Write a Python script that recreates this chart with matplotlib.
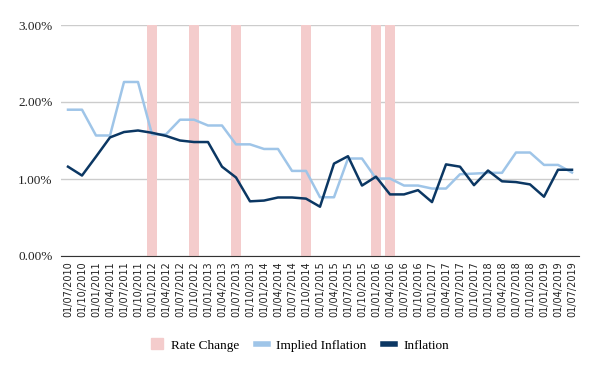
import numpy as np
import matplotlib
matplotlib.use('Agg')
import matplotlib.pyplot as plt
from matplotlib.ticker import PercentFormatter
from matplotlib.lines import Line2D
from matplotlib.patches import Patch

# quarterly dates, 01/07/2010 .. 01/07/2019
dates = []
for yr in range(2010, 2020):
    for mo in ['01', '04', '07', '10']:
        if (yr == 2010 and mo in ('01', '04')) or (yr == 2019 and mo == '10'):
            continue
        dates.append(f"01/{mo}/{yr}")

implied = [1.90, 1.90, 1.565, 1.565, 2.26, 2.26, 1.58, 1.58, 1.77, 1.77,
           1.695, 1.695, 1.45, 1.45, 1.39, 1.39, 1.105, 1.105, 0.763, 0.763,
           1.266, 1.266, 1.006, 1.006, 0.915, 0.915, 0.876, 0.876, 1.062, 1.07,
           1.08, 1.08, 1.344, 1.344, 1.183, 1.183, 1.084]
inflation = [1.16, 1.045, 1.29, 1.54, 1.61, 1.63, 1.60, 1.56, 1.50, 1.48,
             1.48, 1.16, 1.02, 0.71, 0.72, 0.76, 0.76, 0.745, 0.64, 1.20,
             1.296, 0.915, 1.03, 0.80, 0.80, 0.855, 0.70, 1.19, 1.16, 0.92,
             1.11, 0.97, 0.96, 0.93, 0.77, 1.12, 1.12]
rate_change_dates = ["01/01/2012", "01/10/2012", "01/07/2013",
                     "01/10/2014", "01/01/2016", "01/04/2016"]
rate_change_level = 3.0

pink = '#f4cccc'
light_blue = '#9fc5e8'
navy = '#0b3763'
serif = ['Liberation Serif', 'DejaVu Serif']

fig = plt.figure(figsize=(6, 3.71), dpi=100)
ax = fig.add_axes([61/600, 115/371, 518/600, 231/371])

x = np.arange(len(dates))
rc_idx = [dates.index(d) for d in rate_change_dates]
ax.bar(rc_idx, [rate_change_level]*len(rc_idx), width=0.65, color=pink, zorder=1)
ax.plot(x, implied, color=light_blue, lw=1.8, zorder=3)
ax.plot(x, inflation, color=navy, lw=1.8, zorder=4)

ax.set_xlim(-0.5, len(dates) - 0.5)
ax.set_ylim(0, 3)
ax.set_yticks([0, 1, 2, 3])
ax.yaxis.set_major_formatter(PercentFormatter(decimals=2))
ax.grid(axis='y', color='#cccccc', lw=1, zorder=0)
ax.set_axisbelow(True)
for s in ['left', 'right', 'top']:
    ax.spines[s].set_visible(False)
ax.spines['bottom'].set_color('#333333')
ax.spines['bottom'].set_zorder(5)
ax.tick_params(axis='y', length=0, pad=6)
ax.tick_params(axis='x', length=0, pad=4)
for t in ax.get_yticklabels():
    t.set_family(serif)
    t.set_fontsize(9.5)
    t.set_color('#222222')
ax.set_xticks(x)
ax.set_xticklabels(dates, rotation=90, fontsize=7, color='#222222')

handles = [Patch(color=pink),
           Line2D([], [], color=light_blue, lw=4),
           Line2D([], [], color=navy, lw=4)]
fig.legend(handles, ['Rate Change', 'Implied Inflation', 'Inflation'],
           loc='center', bbox_to_anchor=(0.5, 26/371), ncol=3, frameon=False,
           prop={'family': serif, 'size': 9.5}, handlelength=0.9,
           handleheight=0.9, columnspacing=1.3, handletextpad=0.6)

fig.savefig('out.png', dpi=100)
